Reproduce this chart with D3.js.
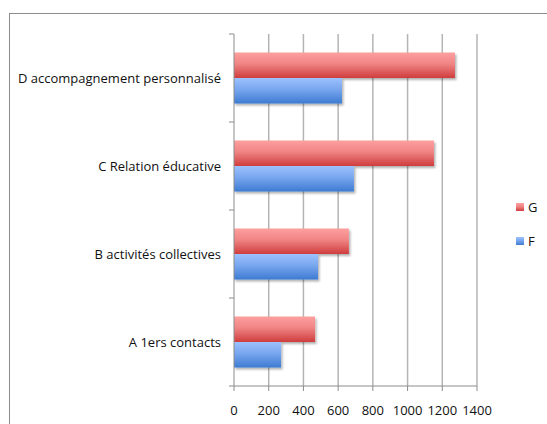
<!DOCTYPE html>
<html>
<head>
<meta charset="utf-8">
<script src="https://cdn.jsdelivr.net/npm/d3@7"></script>
<style>
  body { margin: 0; background: #fff; }
  text { font-family: "Open Sans", "Liberation Sans", sans-serif; fill: #111; }
</style>
</head>
<body>
<script>
// data
var categories = ['A 1ers contacts', 'B activités collectives', 'C Relation éducative', 'D accompagnement personnalisé'];
var seriesNames = ['G', 'F'];
var valuesG = [467, 662, 1152, 1273];
var valuesF = [271, 484, 691, 622];
var xTicks = [0, 200, 400, 600, 800, 1000, 1200, 1400];

var width = 547, height = 424;
var plot = { left: 234, right: 477, top: 34, bottom: 386 };

var svg = d3.select('body').append('svg')
    .attr('width', width)
    .attr('height', height);

var defs = svg.append('defs');
var gradRed = defs.append('linearGradient').attr('id', 'gRed')
    .attr('x1', 0).attr('y1', 0).attr('x2', 0).attr('y2', 1);
gradRed.append('stop').attr('offset', '0%').attr('stop-color', '#ffa0a0');
gradRed.append('stop').attr('offset', '45%').attr('stop-color', '#f08484');
gradRed.append('stop').attr('offset', '100%').attr('stop-color', '#d03c3c');
var gradBlue = defs.append('linearGradient').attr('id', 'gBlue')
    .attr('x1', 0).attr('y1', 0).attr('x2', 0).attr('y2', 1);
gradBlue.append('stop').attr('offset', '0%').attr('stop-color', '#9cc2ff');
gradBlue.append('stop').attr('offset', '45%').attr('stop-color', '#78a6ee');
gradBlue.append('stop').attr('offset', '100%').attr('stop-color', '#3d7bd2');
var shadow = defs.append('filter').attr('id', 'shadow')
    .attr('x', '-5%').attr('y', '-20%').attr('width', '115%').attr('height', '150%');
shadow.append('feDropShadow').attr('dx', 1.5).attr('dy', 2).attr('stdDeviation', 1.2)
    .attr('flood-color', '#000').attr('flood-opacity', 0.3);

// outer frame
svg.append('rect')
    .attr('x', 9.5).attr('y', 13.5)
    .attr('width', 560).attr('height', 430)
    .attr('fill', 'none')
    .attr('stroke', '#8c8c8c')
    .attr('stroke-width', 1);

var x = d3.scaleLinear().domain([0, 1400]).range([plot.left, plot.right]);
var y = d3.scaleBand().domain(categories.slice().reverse()).range([plot.top, plot.bottom])
    .paddingInner(0.42).paddingOuter(0.21);
var ySub = d3.scaleBand().domain(seriesNames).range([0, y.bandwidth()]);

// gridlines
svg.append('g').selectAll('line')
    .data(xTicks.slice(1))
    .join('line')
    .attr('x1', function (d) { return x(d); })
    .attr('x2', function (d) { return x(d); })
    .attr('y1', plot.top)
    .attr('y2', plot.bottom)
    .attr('stroke', '#b4b4b4')
    .attr('stroke-width', 1.5);

// bars
var rows = categories.map(function (c, i) {
    return { cat: c, G: valuesG[i], F: valuesF[i] };
});
var barG = svg.append('g');
seriesNames.forEach(function (s) {
    barG.selectAll('rect.' + s)
        .data(rows)
        .join('rect')
        .attr('class', s)
        .attr('x', x(0))
        .attr('y', function (d) { return y(d.cat) + ySub(s); })
        .attr('width', function (d) { return x(d[s]) - x(0); })
        .attr('height', ySub.bandwidth())
        .attr('fill', s === 'G' ? 'url(#gRed)' : 'url(#gBlue)')
        .attr('filter', 'url(#shadow)');
});

// y axis
var yAxisTicks = [0, 1, 2, 3, 4].map(function (i) { return plot.top + i * (plot.bottom - plot.top) / 4; });
var yAx = svg.append('g');
yAx.append('line')
    .attr('x1', plot.left).attr('x2', plot.left)
    .attr('y1', plot.top).attr('y2', plot.bottom)
    .attr('stroke', '#8c8c8c').attr('stroke-width', 1);
yAx.selectAll('line.tk')
    .data(yAxisTicks)
    .join('line')
    .attr('class', 'tk')
    .attr('x1', plot.left - 5).attr('x2', plot.left)
    .attr('y1', function (d) { return d; }).attr('y2', function (d) { return d; })
    .attr('stroke', '#8c8c8c');
yAx.selectAll('text')
    .data(categories)
    .join('text')
    .attr('x', 221)
    .attr('y', function (d) { return y(d) + y.bandwidth() / 2; })
    .attr('dy', '0.35em')
    .attr('text-anchor', 'end')
    .style('font-size', '13px')
    .text(function (d) { return d; });

// x axis
var xAx = svg.append('g');
xAx.append('line')
    .attr('x1', plot.left).attr('x2', plot.right)
    .attr('y1', plot.bottom).attr('y2', plot.bottom)
    .attr('stroke', '#8c8c8c');
xAx.selectAll('line.tk')
    .data(xTicks)
    .join('line')
    .attr('class', 'tk')
    .attr('x1', function (d) { return x(d); }).attr('x2', function (d) { return x(d); })
    .attr('y1', plot.bottom).attr('y2', plot.bottom + 5)
    .attr('stroke', '#8c8c8c');
xAx.selectAll('text')
    .data(xTicks)
    .join('text')
    .attr('x', function (d) { return x(d); })
    .attr('y', 410)
    .attr('dy', '0.35em')
    .attr('text-anchor', 'middle')
    .style('font-size', '13px')
    .text(function (d) { return d; });

// legend
var legend = svg.append('g');
seriesNames.forEach(function (s, i) {
    var ly = 207 + i * 34;
    legend.append('rect')
        .attr('x', 516).attr('y', ly - 4)
        .attr('width', 8).attr('height', 8)
        .attr('fill', s === 'G' ? 'url(#gRed)' : 'url(#gBlue)');
    legend.append('text')
        .attr('x', 528).attr('y', ly)
        .attr('dy', '0.35em')
        .style('font-size', '13px')
        .text(s);
});
</script>
</body>
</html>
